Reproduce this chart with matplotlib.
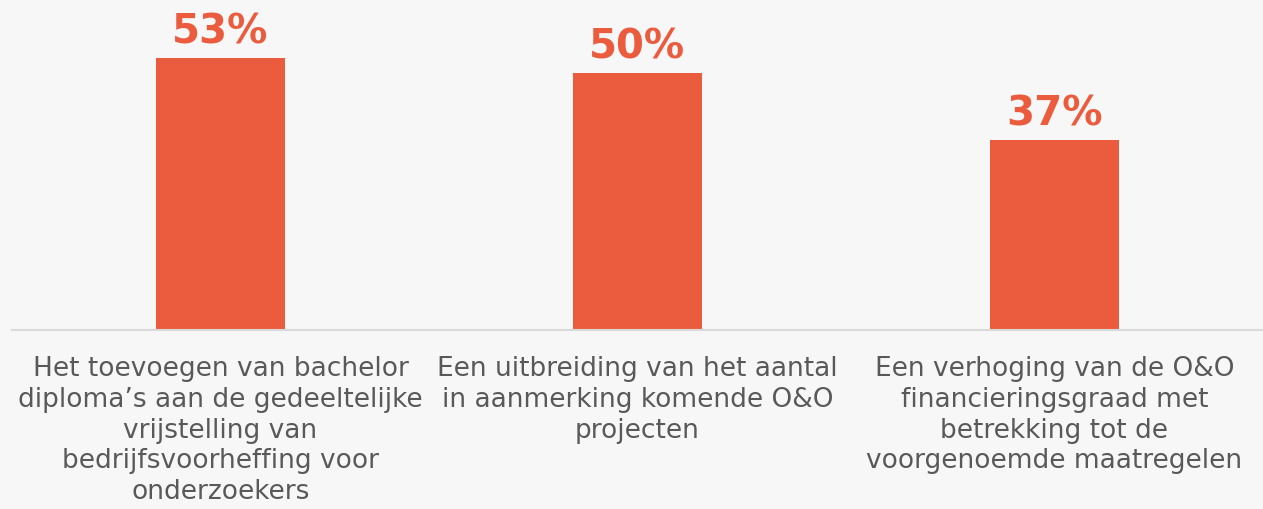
import matplotlib.pyplot as plt

# data
categories = [
    "Het toevoegen van bachelor\ndiploma’s aan de gedeeltelijke\nvrijstelling van\nbedrijfsvoorheffing voor\nonderzoekers",
    "Een uitbreiding van het aantal\nin aanmerking komende O&O\nprojecten",
    "Een verhoging van de O&O\nfinancieringsgraad met\nbetrekking tot de\nvoorgenoemde maatregelen",
]
values = [53, 50, 37]
value_labels = ["53%", "50%", "37%"]

bg = "#F7F7F7"
bar_color = "#EB5C3E"
text_color = "#595959"

fig = plt.figure(figsize=(12.63, 5.10), dpi=100, facecolor=bg)
ax = fig.add_axes([12 / 1263, 179 / 510, 1251 / 1263, 331 / 510])
ax.set_facecolor(bg)

x = list(range(len(values)))
ax.bar(x, values, width=0.31, color=bar_color, zorder=2)

for xi, v, lab in zip(x, values, value_labels):
    ax.annotate(lab, (xi, v), xytext=(0, 5), textcoords="offset points",
                ha="center", va="bottom", fontsize=29, fontweight="bold",
                color=bar_color)
    ax.annotate(categories[xi], (xi, 0), xytext=(0, -18), textcoords="offset points",
                ha="center", va="top", fontsize=19, color=text_color,
                linespacing=1.24)

ax.set_xlim(-0.5, 2.5)
ax.set_ylim(0, 64.5)
for s in ["top", "right", "left"]:
    ax.spines[s].set_visible(False)
ax.spines["bottom"].set_color("#D9D9D9")
ax.spines["bottom"].set_linewidth(1.5)
ax.set_xticks([])
ax.set_yticks([])

fig.savefig("out.png", dpi=100, facecolor=bg)
